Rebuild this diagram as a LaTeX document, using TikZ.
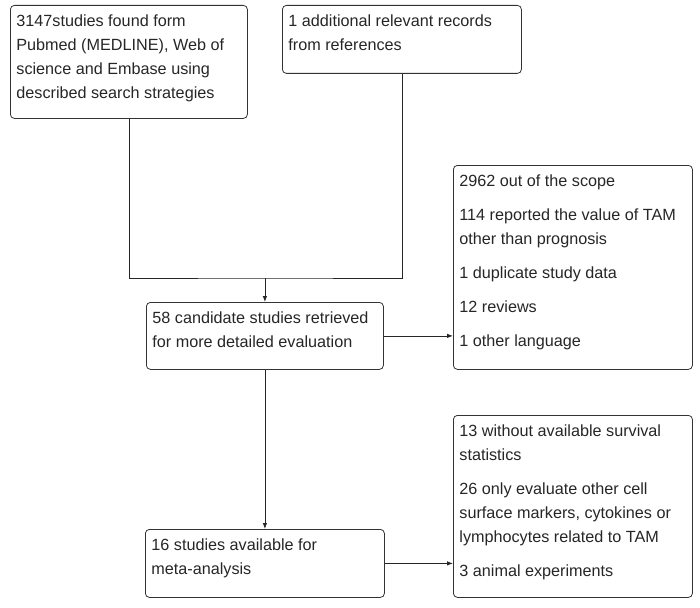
\documentclass[tikz,border=0pt]{standalone}
\usepackage{fontspec}
\setmainfont{Liberation Sans}
\usepackage{tikz}
\usetikzlibrary{arrows.meta, positioning}

% text block inside a flow box: width, height, contents
\newcommand{\flowtext}[3]{\parbox[c][#2][t]{#1}{\raggedright\strut #3}}

\begin{document}
\begin{tikzpicture}[x=1pt, y=-1pt,
    box/.style={draw=black!80, line width=0.8pt, rounded corners=4pt,
      anchor=north west, inner xsep=6pt, inner ysep=4pt, text=black!85,
      font=\fontsize{16.2}{24}\selectfont},
    flow/.style={line width=0.8pt, draw=black!85},
    arrow/.style={flow, -{Latex[length=6pt, width=4.5pt]}}]
  \useasboundingbox (0,0) rectangle (700,607);

  % Sources
  \node[box] (search) at (10,5)
    {\flowtext{225pt}{105pt}{3147studies found form\\ Pubmed (MEDLINE), Web of\\ science and Embase using\\ described search strategies}};
  \node[box] (refs) at (282,5)
    {\flowtext{227pt}{60pt}{1 additional relevant records\\ from references}};

  % Screening
  \node[box] (cand) at (146,302)
    {\flowtext{225pt}{59pt}{58 candidate studies retrieved\\ for more detailed evaluation}};
  \node[box] (excl1) at (453,165)
    {\flowtext{227pt}{196pt}{2962 out of the scope\\[10pt]
      114 reported the value of TAM\\ other than prognosis\\[10pt]
      1 duplicate study data\\[10pt]
      12 reviews\\[10pt]
      1 other language}};

  % Included
  \node[box] (meta) at (145,529)
    {\flowtext{227pt}{60pt}{16 studies available for\\ meta-analysis}};
  \node[box] (excl2) at (453,415)
    {\flowtext{227pt}{174pt}{13 without available survival\\ statistics\\[10pt]
      26 only evaluate other cell\\ surface markers, cytokines or\\ lymphocytes related to TAM\\[10pt]
      3 animal experiments}};

  % Connectors
  \coordinate (join) at (cand.north |- 0,278);
  \draw[flow] (search.south) |- (join) -| (refs.south);
  \draw[arrow] (join) -- (cand.north);
  \draw[arrow] (cand.east) -- (cand.east -| excl1.west);
  \draw[arrow] (cand.south) -- (meta.north);
  \draw[arrow] (meta.east) -- (meta.east -| excl2.west);
\end{tikzpicture}
\end{document}
